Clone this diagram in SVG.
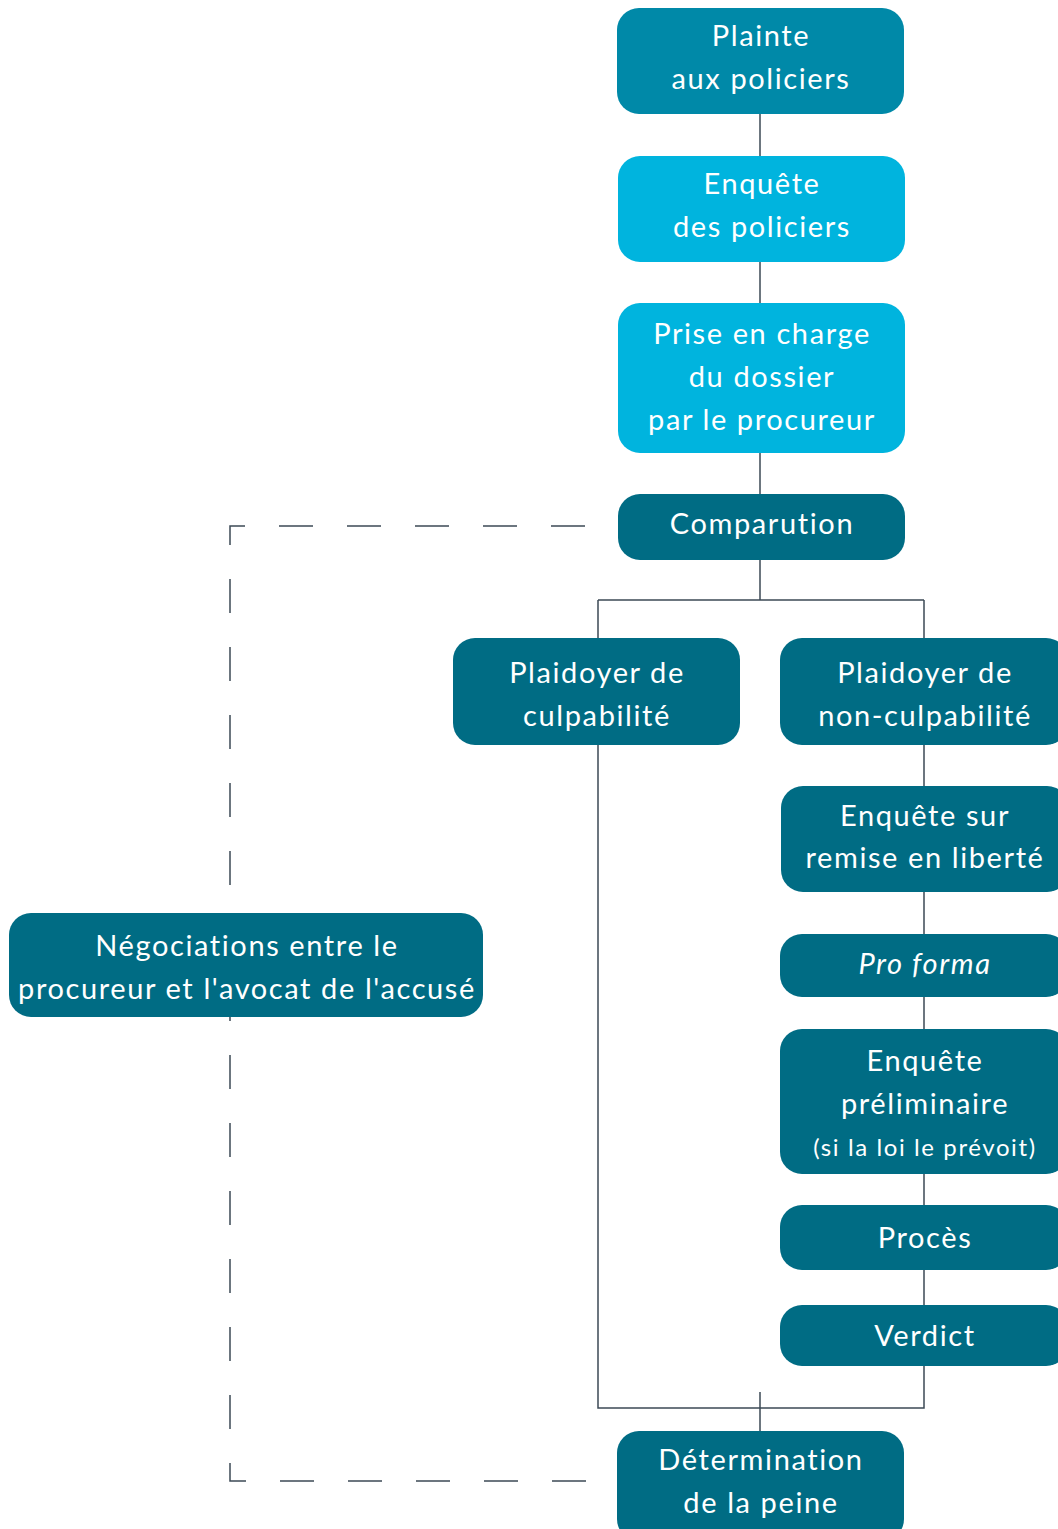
<svg xmlns="http://www.w3.org/2000/svg" width="1058" height="1529" viewBox="0 0 1058 1529">
<style>
.n rect{fill:#006c84}
.n text{fill:#fff;font-family:Lato,"Open Sans","Liberation Sans",sans-serif;font-size:29px;letter-spacing:1.6px;text-anchor:middle}
.c{fill:none;stroke:#3c4a55;stroke-width:1.5}
</style>
<rect width="1058" height="1529" fill="#fff"/>
<g id="connectors">
<path class="c" d="M760 114V156M760 262V303M760 453V494M760 560V600M598 600H924M598 600V638M924 600V638M924 745V786M924 892V934M924 997V1029M924 1174V1205M924 1270V1305M924 1366V1408H598V745M760 1392V1431"/>
<path class="c" d="M585 526H230V1481H592" stroke-dasharray="34 34"/>
</g>
<g id="plainte" class="n"><rect x="617" y="8" width="287" height="106" rx="22" style="fill:#0089a8"/><text x="761" y="46">Plainte</text><text x="761" y="89">aux policiers</text></g>
<g id="enquete-policiers" class="n"><rect x="618" y="156" width="287" height="106" rx="22" style="fill:#00b4de"/><text x="762" y="194">Enquête</text><text x="762" y="237">des policiers</text></g>
<g id="prise-en-charge" class="n"><rect x="618" y="303" width="287" height="150" rx="22" style="fill:#00b4de"/><text x="762" y="344">Prise en charge</text><text x="762" y="387">du dossier</text><text x="762" y="430">par le procureur</text></g>
<g id="comparution" class="n"><rect x="618" y="494" width="287" height="66" rx="22"/><text x="762" y="534">Comparution</text></g>
<g id="plaidoyer-culpabilite" class="n"><rect x="453" y="638" width="287" height="107" rx="22"/><text x="597" y="683">Plaidoyer de</text><text x="597" y="726">culpabilité</text></g>
<g id="plaidoyer-non-culpabilite" class="n"><rect x="780" y="638" width="288" height="107" rx="22"/><text x="925" y="683">Plaidoyer de</text><text x="925" y="726">non-culpabilité</text></g>
<g id="enquete-remise" class="n"><rect x="781" y="786" width="288" height="106" rx="22"/><text x="925" y="826">Enquête sur</text><text x="925" y="868">remise en liberté</text></g>
<g id="pro-forma" class="n"><rect x="780" y="934" width="288" height="63" rx="22"/><text x="925" y="974" font-style="italic">Pro forma</text></g>
<g id="enquete-preliminaire" class="n"><rect x="780" y="1029" width="288" height="145" rx="22"/><text x="925" y="1071">Enquête</text><text x="925" y="1114">préliminaire</text><text x="925" y="1156" style="font-size:24px">(si la loi le prévoit)</text></g>
<g id="proces" class="n"><rect x="780" y="1205" width="288" height="65" rx="22"/><text x="925" y="1248">Procès</text></g>
<g id="verdict" class="n"><rect x="780" y="1305" width="288" height="61" rx="22"/><text x="925" y="1346">Verdict</text></g>
<g id="negociations" class="n"><rect x="9" y="913" width="474" height="104" rx="22"/><text x="247" y="956">Négociations entre le</text><text x="247" y="999">procureur et l'avocat de l'accusé</text></g>
<g id="determination" class="n"><rect x="617" y="1431" width="287" height="110" rx="22"/><text x="761" y="1470">Détermination</text><text x="761" y="1513">de la peine</text></g>
</svg>
